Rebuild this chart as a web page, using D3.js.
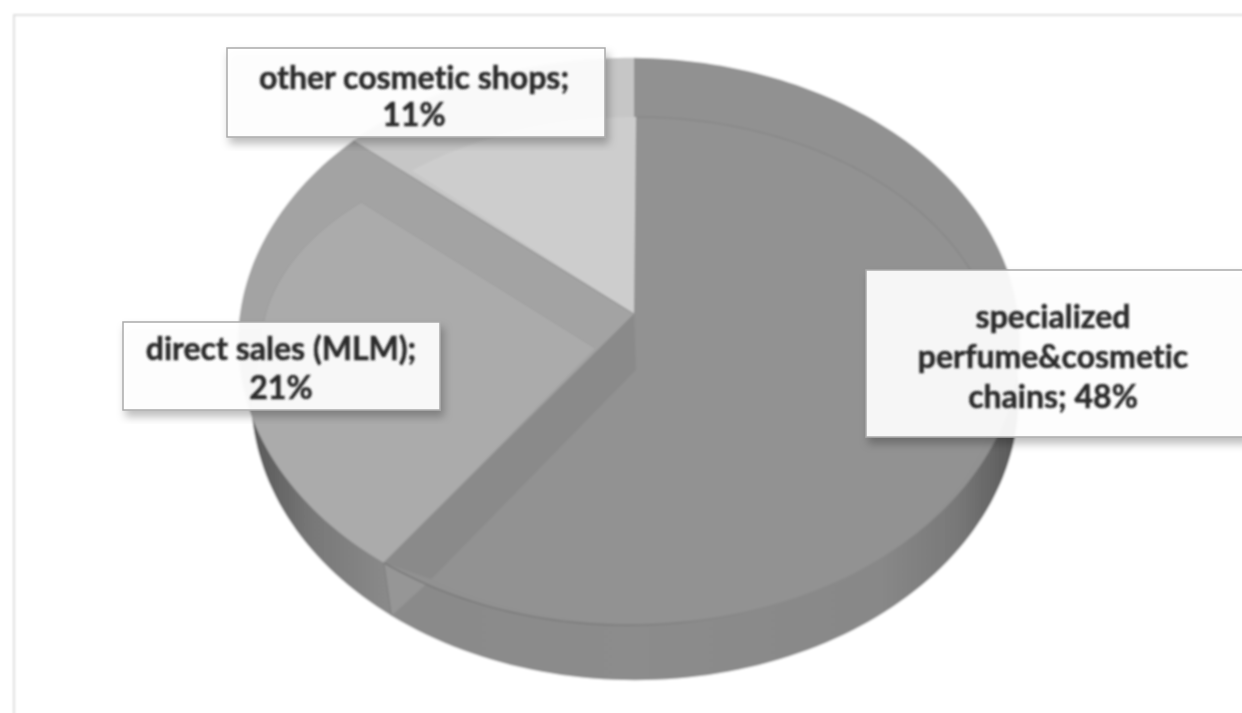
<!DOCTYPE html>
<html>
<head>
<meta charset="utf-8">
<title>Sales channels</title>
<script src="https://cdn.jsdelivr.net/npm/d3@7"></script>
<style>
	html, body { margin: 0; padding: 0; background: #fff; overflow: hidden; }
	svg { display: block; }
	.label text {
		font-family: Lato, sans-serif; font-weight: 700; font-size: 32px; fill: #2a2a2a;
		stroke: #2a2a2a; stroke-width: 0.5; text-anchor: middle; font-variant-ligatures: none;
	}
</style>
</head>
<body>
<svg width="1242" height="713"></svg>
<script>
// data
var categories = ['specialized perfume&cosmetic chains', 'direct sales (MLM)', 'other cosmetic shops'];
var shares = [48, 21, 11];
var labelLines = [
	['specialized', 'perfume&cosmetic', 'chains; 48%'],
	['direct sales (MLM);', '21%'],
	['other cosmetic shops;', '11%']
];

// layout, same order as categories
var labelBoxes = [
	{ x: 866, y: 270, w: 380, h: 167, cx: 1053, baselines: [328, 368, 408] },
	{ x: 123, y: 322, w: 317, h: 88, cx: 281, baselines: [360, 399] },
	{ x: 227, y: 48, w: 378, h: 89, cx: 414, baselines: [89, 126] }
];

var svg = d3.select('svg');
var defs = svg.append('defs');

// soften everything a little, the original is a scaled up raster
defs.append('filter').attr('id', 'soft')
	.append('feGaussianBlur').attr('stdDeviation', 0.9);

var textSoft = defs.append('filter').attr('id', 'softText');
textSoft.append('feGaussianBlur').attr('stdDeviation', 0.9);

var shadow = defs.append('filter').attr('id', 'shadow')
	.attr('x', '-5%').attr('y', '-10%').attr('width', '112%').attr('height', '125%');
shadow.append('feDropShadow')
	.attr('dx', 3).attr('dy', 6).attr('stdDeviation', 4)
	.attr('flood-color', '#000').attr('flood-opacity', 0.28);

var wallGradient = defs.append('linearGradient').attr('id', 'wall');
[[0, '#585858'], [0.03, '#646464'], [0.08, '#787878'], [0.18, '#8a8a8a'], [0.5, '#8c8c8c'], [0.82, '#888888'], [0.92, '#787878'], [0.97, '#646464'], [1, '#555555']]
	.forEach(function(stop) {
		wallGradient.append('stop').attr('offset', stop[0]).attr('stop-color', stop[1]);
	});

// rim line fades out towards the right
var rimGradient = defs.append('linearGradient').attr('id', 'rim');
rimGradient.append('stop').attr('offset', 0).attr('stop-color', '#757575');
rimGradient.append('stop').attr('offset', 0.6).attr('stop-color', '#7c7c7c');
rimGradient.append('stop').attr('offset', 1).attr('stop-color', '#8c8c8c').attr('stop-opacity', 0);

// angles come from d3.pie, the pie fills the circle with the three labelled shares
var arcs = d3.pie().sort(null)(shares);
var big = arcs[0], direct = arcs[1], other = arcs[2];

// a tilted disc: angle (clockwise from the top) to a point on the page
function disc(x0, y0, b, a, k, m) {
	return function(angle, r) {
		r = r === undefined ? 1 : r;
		var u = Math.sin(angle) * r,
			v = -Math.cos(angle) * r,
			w = 1 - k * v + m * u;
		return [x0 + b * u / w, y0 + a * v / w];
	};
}

var topDisc = disc(634, 314, 389, 281, 0.097, 0.0128);
var baseDisc = disc(635, 369, 382, 281, 0.097, 0);
var innerBig = disc(636, 370, 364, 253, 0, 0);
var innerDirect = disc(595, 348, 334, 204, 0, 0);

var line = d3.line();
var deg = d3.scaleLinear().domain([0, 360]).range([0, 2 * Math.PI]);

function sweep(project, from, to) {
	var n = Math.max(2, Math.ceil(Math.abs(to - from) * 40));
	return d3.range(n + 1).map(function(i) {
		return project(from + (to - from) * i / n);
	});
}

function sector(project, arc) {
	return [project(0, 0)].concat(sweep(project, arc.startAngle, arc.endAngle));
}

var chart = svg.append('g').attr('filter', 'url(#soft)');

// frame of the chart area
chart.append('rect')
	.attr('x', 14).attr('y', 15).attr('width', 1300).attr('height', 800)
	.attr('fill', '#fff').attr('stroke', '#dfdfdf').attr('stroke-width', 2);

// side wall
chart.append('path')
	.attr('d', line(sweep(baseDisc, 0, 2 * Math.PI)) + 'Z')
	.attr('fill', 'url(#wall)');

// the pale wedge on the wall where the big slice meets direct sales
var seamEnd = deg(214.2);
chart.append('path')
	.attr('d', line([topDisc(big.endAngle), baseDisc(big.endAngle), innerBig(seamEnd)]) + 'Z')
	.attr('fill', '#969696');

// flat slices, their colour is what shows on the bevel
var sliceFill = ['#919191', '#a3a3a3', '#c6c6c6'];
chart.selectAll('path.slice')
	.data(arcs)
	.enter().append('path')
	.attr('class', 'slice')
	.attr('d', function(d) { return line(sector(topDisc, d)) + 'Z'; })
	.attr('fill', function(d, i) { return sliceFill[i]; });

// bevel of the big slice along its last edge
chart.append('path')
	.attr('d', line([
		topDisc(0, 0),
		topDisc(big.endAngle),
		innerBig(seamEnd),
		innerBig(0, 0)
	]) + 'Z')
	.attr('fill', '#8a8a8a');

// raised faces
chart.append('path')
	.attr('d', line(sector(innerBig, { startAngle: 0, endAngle: seamEnd })) + 'Z')
	.attr('fill', '#929292');
chart.append('path')
	.attr('d', line(sweep(innerBig, 0, deg(105))))
	.attr('fill', 'none').attr('stroke', '#868686').attr('stroke-width', 1.2);

var directFace = [innerDirect(0, 0)]
	.concat(sweep(topDisc, direct.startAngle, deg(250)))
	.concat(sweep(innerDirect, deg(270), deg(315.6)));
chart.append('path')
	.attr('d', line(directFace) + 'Z')
	.attr('fill', '#ababab');
chart.append('path')
	.attr('d', line(sweep(innerDirect, deg(270), deg(315.6)).concat([innerDirect(0, 0)])))
	.attr('fill', 'none').attr('stroke', '#9e9e9e').attr('stroke-width', 1);

chart.append('path')
	.attr('d', line([topDisc(0, 0)].concat(sweep(innerBig, deg(322), deg(360)))) + 'Z')
	.attr('fill', '#cdcdcd');

// front rim line
chart.append('path')
	.attr('d', line(sweep(topDisc, deg(150), big.endAngle)))
	.attr('fill', 'none').attr('stroke', 'url(#rim)').attr('stroke-width', 1.4)
	.attr('transform', null);

// edges between the slices
chart.append('path')
	.attr('d', line([topDisc(direct.endAngle), topDisc(0, 0), topDisc(big.endAngle)]))
	.attr('fill', 'none').attr('stroke', '#8e8e8e').attr('stroke-width', 1);
chart.append('path')
	.attr('d', line([topDisc(big.endAngle), baseDisc(big.endAngle)]))
	.attr('fill', 'none').attr('stroke', '#7d7d7d').attr('stroke-width', 1);

// labels
var labels = svg.selectAll('g.label')
	.data(categories)
	.enter().append('g')
	.attr('class', 'label');

labels.append('rect')
	.attr('x', function(d, i) { return labelBoxes[i].x; })
	.attr('y', function(d, i) { return labelBoxes[i].y; })
	.attr('width', function(d, i) { return labelBoxes[i].w; })
	.attr('height', function(d, i) { return labelBoxes[i].h; })
	.attr('fill', '#fff').attr('fill-opacity', 0.92)
	.attr('stroke', '#aaa').attr('stroke-width', 1.5)
	.attr('filter', 'url(#shadow)');

labels.each(function(d, i) {
	d3.select(this).selectAll('text')
		.data(labelLines[i])
		.enter().append('text')
		.attr('x', labelBoxes[i].cx)
		.attr('y', function(t, j) { return labelBoxes[i].baselines[j]; })
		.attr('filter', 'url(#softText)')
		.text(function(t) { return t; });
});
</script>
</body>
</html>
